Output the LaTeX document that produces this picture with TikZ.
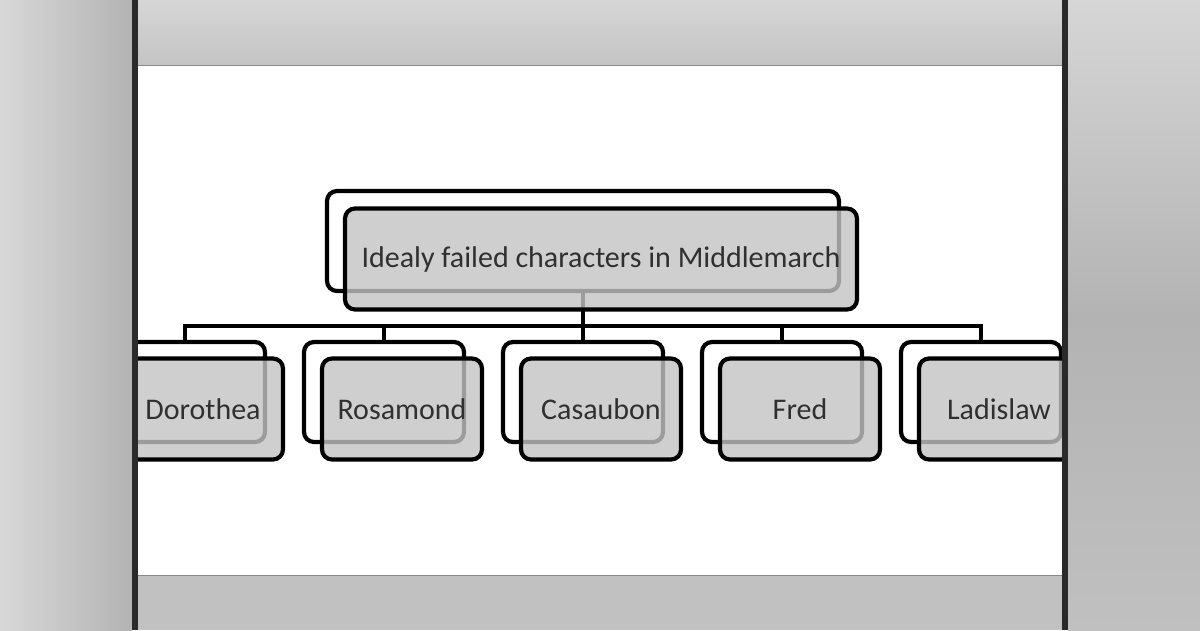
\documentclass[tikz,border=0pt]{standalone}
\usepackage{fontspec}
\setmainfont{Carlito}
\definecolor{boxfill}{HTML}{C4C4C4}
\definecolor{txt}{HTML}{303030}
\definecolor{frame}{HTML}{2A2A2A}
\definecolor{bandtop}{HTML}{D6D6D6}
\definecolor{bandbot}{HTML}{C4C4C4}
\definecolor{sideA}{HTML}{D8D8D8}
\definecolor{sideB}{HTML}{B3B3B3}
\definecolor{sideC}{HTML}{C0C0C0}
\definecolor{lowband}{HTML}{C1C1C1}
\definecolor{edgeline}{HTML}{8A8A8A}
\begin{document}
\begin{tikzpicture}[x=1pt,y=-1pt,
  backbox/.style={draw=black, line width=4.2pt, fill=white, rounded corners=10pt,
    inner sep=0pt, outer sep=0pt, minimum height=100pt},
  frontbox/.style={draw=black, line width=4.2pt, fill=boxfill, fill opacity=0.8,
    text opacity=1, text=txt, rounded corners=10pt, inner sep=0pt, outer sep=0pt,
    minimum height=101pt, font=\fontsize{30}{36}\selectfont},
  rootw/.style={minimum width=512pt},
  childw/.style={minimum width=160pt},
  conn/.style={draw=black, line width=3.4pt}]
\useasboundingbox (0,0) rectangle (1200,630);
% background
\fill[sideB] (0,0) rectangle (1200,630);
\shade[left color=sideA, right color=sideB] (0,0) rectangle (132,630);
\shade[top color=bandtop, bottom color=sideC, middle color=sideB] (1068,0) rectangle (1200,630);
\shade[top color=bandtop, bottom color=bandbot] (138,0) rectangle (1062,65);
\fill[lowband] (138,575) rectangle (1062,630);
\fill[white] (138,65) rectangle (1062,575);
\draw[edgeline, line width=1pt] (138,65) -- (1062,65);
\draw[edgeline, line width=1pt] (138,575) -- (1062,575);
% diagram
\begin{scope}
\clip (138,65) rectangle (1062,575);
\node[backbox, rootw] (rb) at (583,241) {};
\node[backbox, childw] (c1b) at (185,392) {};
\node[backbox, childw] (c2b) at (384,392) {};
\node[backbox, childw] (c3b) at (583,392) {};
\node[backbox, childw] (c4b) at (782,392) {};
\node[backbox, childw] (c5b) at (981,392) {};
\coordinate (bar) at (583,326);
\draw[conn] (rb.south) -- (bar);
\foreach \i in {1,...,5} { \draw[conn] (bar) -| (c\i b.north); }
\node[frontbox, rootw] (rf) at (601,259) {Idealy failed characters in Middlemarch};
\node[frontbox, childw] (c1f) at (203,409) {Dorothea};
\node[frontbox, childw] (c2f) at (402,409) {Rosamond};
\node[frontbox, childw] (c3f) at (601,409) {Casaubon};
\node[frontbox, childw] (c4f) at (800,409) {Fred};
\node[frontbox, childw] (c5f) at (999,409) {Ladislaw};
\end{scope}
% frame lines
\fill[frame] (132,0) rectangle (138,630);
\fill[frame] (1062,0) rectangle (1068,630);
\end{tikzpicture}
\end{document}
